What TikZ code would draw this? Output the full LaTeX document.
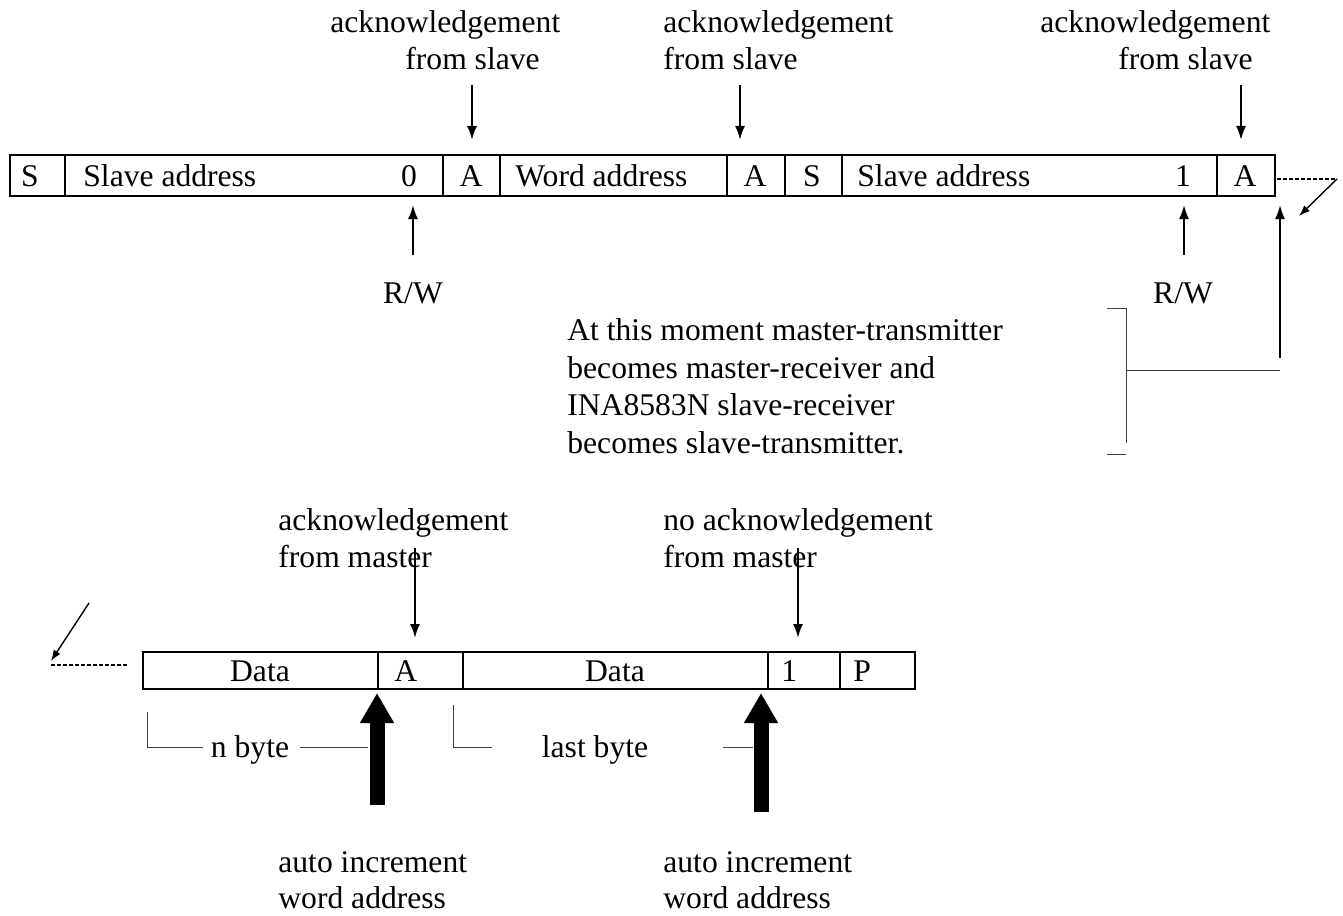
\documentclass[tikz,border=0pt]{standalone}
\usepackage{fontspec}
\setmainfont{Liberation Serif}
\usetikzlibrary{arrows.meta,positioning}

\tikzset{
  lbl/.style={anchor=base west, inner sep=0pt},
  ctr/.style={anchor=base, inner sep=0pt},
  frame/.style={line width=1pt},
  arr/.style={line width=1pt, -{Latex[length=7pt,width=5pt]}},
  thinline/.style={line width=0.5pt, black!75},
  dashline/.style={line width=0.6pt, dash pattern=on 2pt off 1pt},
  fatarr/.style={line width=7.5pt, -{Triangle[length=15pt,width=16pt]}},
}

\begin{document}
\begin{tikzpicture}[x=0.5pt, y=-0.5pt, font=\fontsize{15.8}{19}\selectfont]
        \useasboundingbox (0,0) rectangle (1343,915);

        % first frame
        \draw[frame] (10,155) rectangle (1275,196);
        \foreach \x in {65,443,500,727,785,842,1217} {
            \draw[frame] (\x,155) -- (\x,196);
        }
        \node[ctr] (s1) at (30,186) {S};
        \node[lbl] (sa1) at (83,186) {Slave address};
        \node[ctr] (rw0) at (409,186) {0};
        \node[ctr] (a1) at (471,186) {A};
        \node[lbl] (wa) at (515,186) {Word address};
        \node[ctr] (a2) at (755,186) {A};
        \node[ctr] (s2) at (812,186) {S};
        \node[lbl] (sa2) at (857,186) {Slave address};
        \node[ctr] (rw1) at (1183,186) {1};
        \node[ctr] (a3) at (1245,186) {A};

        % acknowledgements from slave
        \node[lbl] (ack1) at (330,33) {acknowledgement};
        \node[lbl] (frs1) at (405,70) {from slave};
        \node[lbl] (ack2) at (663,33) {acknowledgement};
        \node[lbl] (frs2) at (663,70) {from slave};
        \node[lbl] (ack3) at (1040,33) {acknowledgement};
        \node[lbl] (frs3) at (1118,70) {from slave};
        \foreach \x in {472,740,1241} {
            \coordinate (u\x) at (\x,85);
            \coordinate (d\x) at (\x,140);
            \draw[arr] (u\x) -- (d\x);
        }

        % R/W bits
        \node[ctr] (rwa) at (413,303) {R/W};
        \node[ctr] (rwb) at (1183,303) {R/W};
        \coordinate (rwa top) at (413,205);
        \coordinate (rwb top) at (1184,205);
        \draw[arr] (413,255) -- (rwa top);
        \draw[arr] (1184,255) -- (rwb top);

        % turn-around note
        \node[lbl] (n1) at (567,340) {At this moment master-transmitter};
        \node[lbl] (n2) at (567,378) {becomes master-receiver and};
        \node[lbl] (n3) at (567,415) {INA8583N slave-receiver};
        \node[lbl] (n4) at (567,453) {becomes slave-transmitter.};
        \coordinate (br) at (1126,370);
        \coordinate (turn) at (1280,370);
        \coordinate (turn top) at (1280,205);
        \draw[thinline] (1107,308) -- (1126,308) -- (1126,443);
        \draw[thinline] (1107,454) -- (1126,454);
        \draw[thinline] (br) -- (turn);
        \draw[arr] (1280,358) -- (turn top);

        % continuation
        \coordinate (c1) at (1277,179);
        \coordinate (c2) at (1337,179);
        \coordinate (c3) at (1299,216);
        \draw[dashline] (c1) -- (c2);
        \draw[line width=0.7pt, -{Latex[length=5.5pt,width=4pt]}] (c2) -- (c3);
        \coordinate (c4) at (127,665);
        \coordinate (c5) at (50,665);
        \coordinate (c6) at (89,603);
        \coordinate (c7) at (51,661);
        \draw[dashline] (c4) -- (c5);
        \draw[line width=0.7pt, -{Latex[length=5.5pt,width=4pt]}] (c6) -- (c7);

        % second frame
        \draw[frame] (143,652) rectangle (915,689);
        \foreach \x in {378,463,768,840} {
            \draw[frame] (\x,652) -- (\x,689);
        }
        \node[ctr] (d1) at (260,681) {Data};
        \node[lbl] (a4) at (394,681) {A};
        \node[ctr] (d2) at (615,681) {Data};
        \node[lbl] (one) at (781,681) {1};
        \node[lbl] (p) at (853,681) {P};

        % acknowledgements from master
        \node[lbl] (ack4) at (278,530) {acknowledgement};
        \node[lbl] (frm4) at (278,567) {from master};
        \node[lbl] (ack5) at (663,530) {no acknowledgement};
        \node[lbl] (frm5) at (663,567) {from master};
        \foreach \x in {415,798} {
            \coordinate (v\x) at (\x,548);
            \coordinate (w\x) at (\x,638);
            \draw[arr] (v\x) -- (w\x);
        }

        % bytes
        \node[ctr] (nb) at (250,757) {n byte};
        \node[ctr] (lb) at (595,757) {last byte};
        \draw[thinline] (147,712) -- (147,747) -- (203,747);
        \draw[thinline] (300,747) -- (368,747);
        \draw[thinline] (453,705) -- (453,747) -- (492,747);
        \draw[thinline] (723,747) -- (753,747);

        % auto increment
        \coordinate (inc1) at (377,693);
        \coordinate (inc2) at (761,693);
        \draw[fatarr] (377,805) -- (inc1);
        \draw[fatarr] (761,812) -- (inc2);
        \node[lbl] (ai1) at (278,872) {auto increment};
        \node[lbl] (wd1) at (278,908) {word address};
        \node[lbl] (ai2) at (663,872) {auto increment};
        \node[lbl] (wd2) at (663,908) {word address};
    \end{tikzpicture}
\end{document}
